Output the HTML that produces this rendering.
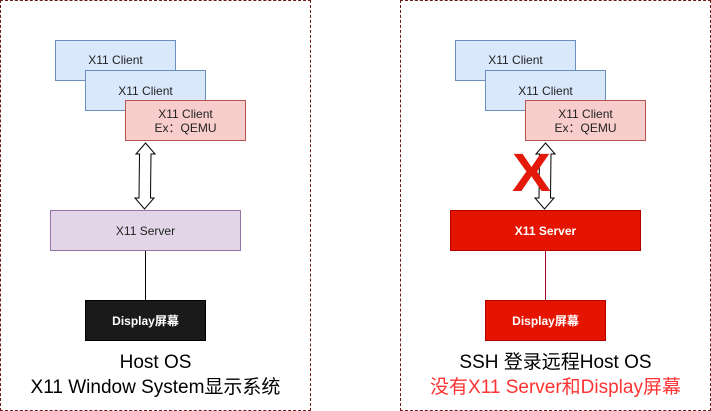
<!DOCTYPE html>
<html><head><meta charset="utf-8"><style>
body{margin:0;width:711px;height:411px;background:#fff;position:relative;overflow:hidden;font-family:"Liberation Sans","Noto Sans CJK SC",sans-serif}
.b{position:absolute;box-sizing:border-box;display:flex;align-items:center;justify-content:center;text-align:center;font-size:12px;line-height:14px;color:#222}
.c{background:#dae8fc;border:1px solid #6c8ebf}
.q{background:#f8cecc;border:1px solid #b85450}
.panel{position:absolute;top:0;height:411px;width:311px;box-sizing:border-box;border:1px dashed #6b1a1a}
.t{position:absolute;width:311px;text-align:center;font-size:19px;line-height:25px}
</style></head><body>
<div class="panel" style="left:0"></div>
<div class="panel" style="left:400px"></div>

<div class="b c" style="left:55px;top:40px;width:121px;height:41px;padding-bottom:2px">X11 Client</div>
<div class="b c" style="left:85px;top:70px;width:121px;height:41px">X11 Client</div>
<div class="b q" style="left:125px;top:100px;width:121px;height:41px">X11 Client<br>Ex：QEMU</div>
<div class="b" style="left:50px;top:210px;width:191px;height:41px;background:#e1d5e7;border:1px solid #9673a6">X11 Server</div>
<div style="position:absolute;left:145px;top:251px;width:1px;height:49px;background:#000"></div>
<div class="b" style="left:85px;top:300px;width:121px;height:41px;background:#1a1a1a;border:1px solid #000;color:#fff;font-weight:bold">Display屏幕</div>
<svg style="position:absolute;left:0;top:0" width="711" height="411">
<path d="M145.5 143 L155 154 L151 154 L150.5 198 L154 198 L144.5 209 L135 198 L139 198 L139.5 154 L136 154 Z" fill="#fff" stroke="#000" stroke-width="1"/>
<path d="M545.5 143 L555 154 L551 154 L550.5 198 L554 198 L544.5 209 L535 198 L539 198 L539.5 154 L536 154 Z" fill="#fff" stroke="#000" stroke-width="1"/>
</svg>
<div class="t" style="left:0;top:350px">Host OS<br>X11 Window System显示系统</div>

<div class="b c" style="left:455px;top:40px;width:121px;height:41px;padding-bottom:2px">X11 Client</div>
<div class="b c" style="left:485px;top:70px;width:121px;height:41px">X11 Client</div>
<div class="b q" style="left:525px;top:100px;width:121px;height:41px">X11 Client<br>Ex：QEMU</div>
<div style="position:absolute;left:512px;top:146px;font-size:54px;font-weight:bold;color:#e31a0a;line-height:54px;font-family:'Liberation Sans',sans-serif;transform:scaleX(1.08);transform-origin:left top">X</div>
<div class="b" style="left:450px;top:210px;width:191px;height:41px;background:#e51400;border:1px solid #b20000;color:#fff;font-weight:bold">X11 Server</div>
<div style="position:absolute;left:545px;top:251px;width:1px;height:49px;background:#a20025"></div>
<div class="b" style="left:485px;top:300px;width:121px;height:41px;background:#e51400;border:1px solid #b20000;color:#fff;font-weight:bold">Display屏幕</div>
<div class="t" style="left:400px;top:350px">SSH 登录远程Host OS<br><span style="color:#ff3333">没有X11 Server和Display屏幕</span></div>
</body></html>
